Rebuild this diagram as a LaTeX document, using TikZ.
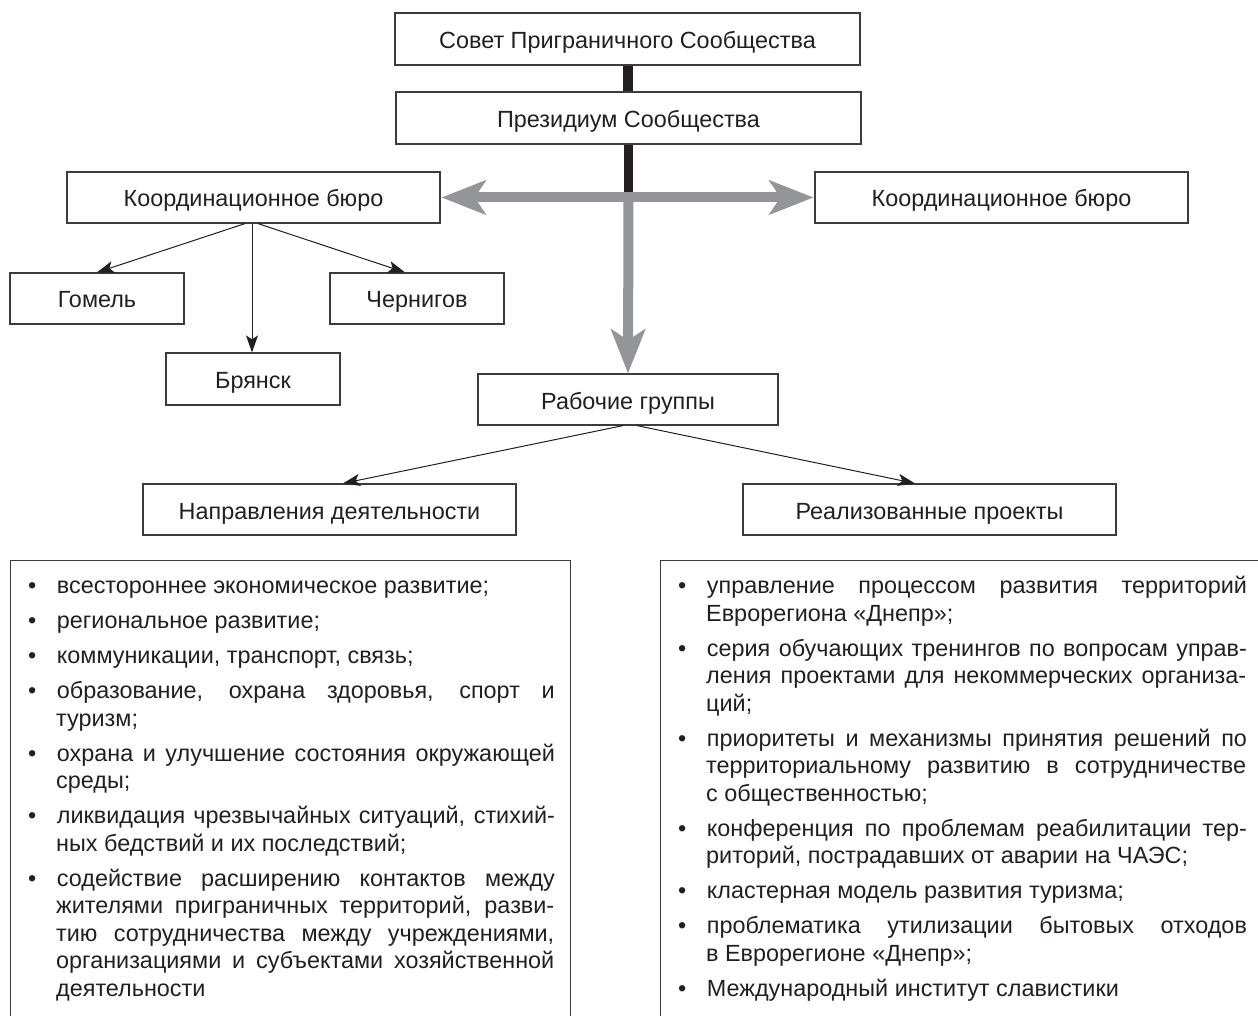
\documentclass[tikz,border=0pt]{standalone}
\usepackage{fontspec}
\setmainfont{Liberation Sans}
\usetikzlibrary{arrows.meta}
\definecolor{ink}{RGB}{35,31,32}
\definecolor{boxline}{RGB}{60,60,60}
\definecolor{flow}{RGB}{148,149,153}
\newcommand{\jl}[1]{\leavevmode\hbox to\linewidth{#1}\newline}
\newenvironment{bulletlist}{\begin{list}{\textbullet}{%
  \setlength\leftmargin{28pt}\setlength\labelwidth{7.5pt}%
  \setlength\labelsep{20.5pt}\setlength\itemsep{7.5pt}%
  \setlength\parsep{0pt}\setlength\topsep{0pt}\setlength\partopsep{0pt}%
  \setlength\itemindent{0pt}\setlength\listparindent{0pt}}}{\end{list}}
\begin{document}
\begin{tikzpicture}[x=1pt,y=-1pt,
  box/.style={draw=boxline,line width=1.2pt,fill=white,inner sep=0pt,
    text height=19pt,text depth=0pt,
    text=ink,font=\fontsize{23.4}{27}\selectfont},
  wide/.style={box,minimum width=373pt,minimum height=51pt},
  city/.style={box,minimum width=174pt,minimum height=51pt},
  top/.style={box,minimum width=465pt,minimum height=52pt},
  thin/.style={draw=ink,line width=1pt,-{Stealth[length=17pt,width=12pt,inset=4pt]}},
  flowarrow/.style={draw=flow,line width=10pt,{Stealth[length=44pt,width=34pt,inset=11pt]}-{Stealth[length=44pt,width=34pt,inset=11pt]}},
  flowdown/.style={draw=flow,line width=10pt,-{Stealth[length=44pt,width=34pt,inset=11pt]}},
  listtext/.style={anchor=north west,inner sep=0pt,text=ink,align=justify,
    font=\fontsize{23.4}{27.5}\selectfont}
]
\useasboundingbox (0,0) rectangle (1258,1016);
\clip (0,0) rectangle (1258,1016);

\node[top] (sovet) at (627.5,39) {Совет Приграничного Сообщества};
\node[top] (prez) at (628.5,118) {Президиум Сообщества};
\node[wide] (kbL) at (253.5,197.5) {Координационное бюро};
\node[wide] (kbR) at (1001.5,197.5) {Координационное бюро};
\node[city] (gomel) at (97,298.5) {Гомель};
\node[city] (chern) at (417,298.5) {Чернигов};
\node[city,minimum height=52pt] (bryansk) at (253,379) {Брянск};
\node[box,minimum width=300pt,minimum height=51pt] (rg) at (628,399.5) {Рабочие группы};
\node[wide] (napr) at (329.5,509.5) {Направления деятельности};
\node[wide] (real) at (929.5,509.5) {Реализованные проекты};
\coordinate (hub) at (628.5,198);

% black bar
\fill[ink] ([xshift=-4.5pt]sovet.south) rectangle ([xshift=4.5pt]prez.north);
\fill[ink] ([xshift=-4.5pt]prez.south) rectangle ([xshift=4.5pt]hub);
% grey arrows
\draw[flowdown] (hub) -- (rg.north);
\draw[flowarrow] ([xshift=1pt]kbL.east) -- ([xshift=-1pt]kbR.west);

% thin arrows
\draw[thin] ([xshift=-8.5pt]kbL.south) -- (gomel.north);
\draw[thin] ([xshift=-1.5pt]kbL.south) -- ([xshift=-1pt]bryansk.north);
\draw[thin] ([xshift=4.5pt]kbL.south) -- ([xshift=-12pt]chern.north);
\draw[thin] ([xshift=-5pt]rg.south) -- ([xshift=13.5pt]napr.north);
\draw[thin] ([xshift=9pt]rg.south) -- ([xshift=-14.5pt]real.north);

% list frames
\node[draw=boxline,line width=1.2pt,inner sep=0pt,minimum width=560pt,minimum height=480pt,anchor=north west] (leftframe) at (10,560) {};
\node[draw=boxline,line width=1.2pt,inner sep=0pt,minimum width=620pt,minimum height=480pt,anchor=north west] (rightframe) at (660,560) {};

\node[listtext,text width=526pt] (leftlist) at ([xshift=18pt,yshift=-6pt]leftframe.north west) {%
\begin{bulletlist}
\item всестороннее экономическое развитие;
\item региональное развитие;
\item коммуникации, транспорт, связь;
\item \jl{образование, охрана здоровья, спорт и}туризм;
\item \jl{охрана и улучшение состояния окружающей}среды;
\item \jl{ликвидация чрезвычайных ситуаций, стихий-}ных бедствий и их последствий;
\item \jl{содействие расширению контактов между}\jl{жителями приграничных территорий, разви-}\jl{тию сотрудничества между учреждениями,}\jl{организациями и субъектами хозяйственной}деятельности
\end{bulletlist}};

\node[listtext,text width=568pt] (rightlist) at ([xshift=18pt,yshift=-6pt]rightframe.north west) {%
\begin{bulletlist}
\item \jl{управление процессом развития территорий}Еврорегиона «Днепр»;
\item \jl{серия обучающих тренингов по вопросам управ-}\jl{ления проектами для некоммерческих организа-}ций;
\item \jl{приоритеты и механизмы принятия решений по}\jl{территориальному развитию в сотрудничестве}с общественностью;
\item \jl{конференция по проблемам реабилитации тер-}риторий, пострадавших от аварии на ЧАЭС;
\item кластерная модель развития туризма;
\item \jl{проблематика утилизации бытовых отходов}в Еврорегионе «Днепр»;
\item Международный институт славистики
\end{bulletlist}};
\end{tikzpicture}
\end{document}
